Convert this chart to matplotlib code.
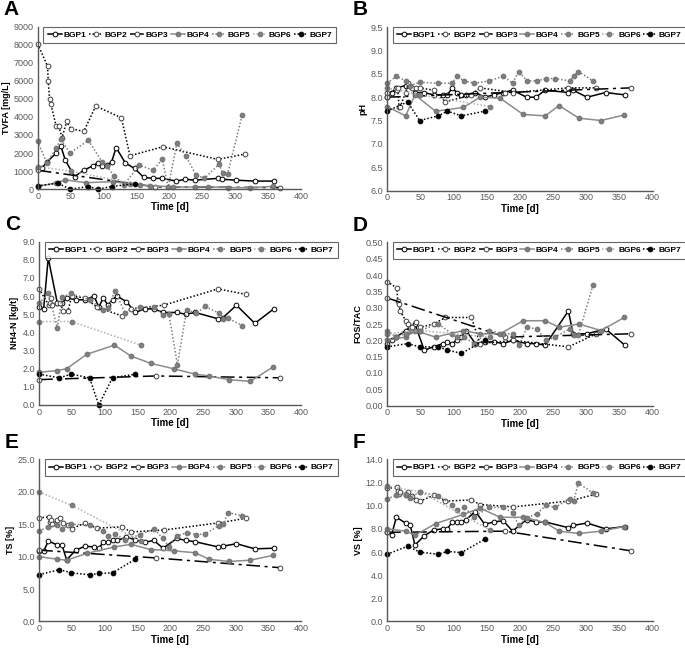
import matplotlib
matplotlib.use('Agg')
import matplotlib.pyplot as plt
from matplotlib.ticker import FormatStrFormatter

plt.rcParams['font.family'] = ['Liberation Sans', 'DejaVu Sans']

# sampling days of each plant
days_bgp1 = [0, 7, 14, 28, 35, 42, 56, 70, 84, 91, 98, 105, 112, 119, 133, 147, 161, 175, 189, 210, 224, 238, 273, 280, 301, 329, 358]
days_bgp2 = [0, 15, 16, 18, 20, 28, 32, 37, 44, 50, 70, 88, 127, 140, 190, 273, 315]
days_bgp3 = [0, 178, 367]
days_bgp4 = [0, 28, 42, 73, 115, 140, 170, 205, 238, 259, 289, 322, 357]
days_bgp5 = [0, 14, 28, 35, 49, 77, 98, 105, 116, 131, 154, 175, 189, 198, 211, 225, 240, 253, 275, 281, 288, 310]
days_bgp6 = [0, 50, 155]
days_bgp7 = [0, 31, 49, 77, 91, 112, 147]

# A - TVFA [mg/L]
tvfa_bgp1 = [1150, 1200, 1500, 2000, 2400, 1600, 700, 1050, 1300, 1450, 1300, 1350, 1500, 2300, 1450, 1150, 650, 600, 600, 450, 550, 500, 600, 550, 500, 450, 450]
tvfa_bgp2 = [8050, 6800, 6000, 5000, 4700, 3500, 3500, 2850, 3750, 3350, 3200, 4600, 3950, 1850, 2350, 1650, 1950]
tvfa_bgp3 = [1050, 130, 90]
tvfa_bgp4 = [150, 350, 520, 360, 420, 280, 200, 130, 120, 130, 90, 80, 160]
tvfa_bgp5 = [2660, 1430, 2290, 2780, 2000, 2700, 1500, 1280, 730, 250, 1330, 1060, 1650, 120, 2530, 1830, 780, 600, 1380, 880, 830, 4090]
tvfa_bgp6 = [1250, 1000, 250]
tvfa_bgp7 = [190, 330, 0, 150, 0, 150, 300]

# B - pH
ph_bgp1 = [8.0, 8.1, 8.2, 8.25, 8.25, 8.1, 8.1, 8.05, 8.05, 8.05, 8.2, 8.1, 8.05, 8.05, 8.1, 8.0, 8.05, 8.1, 8.15, 8.0, 8.0, 8.15, 8.1, 8.15, 8.0, 8.1, 8.05]
ph_bgp2 = [8.1, 8.15, 8.2, 7.8, 7.8, 8.1, 8.3, 8.2, 8.2, 8.2, 8.15, 7.9, 8.05, 8.2, 8.1, 8.2, 8.2]
ph_bgp3 = [8.0, 8.1, 8.2]
ph_bgp4 = [7.8, 7.6, 8.05, 7.7, 7.78, 8.0, 7.98, 7.63, 7.6, 7.82, 7.55, 7.5, 7.62]
ph_bgp5 = [8.3, 8.45, 8.35, 8.25, 8.32, 8.3, 8.3, 8.45, 8.35, 8.3, 8.35, 8.45, 8.3, 8.55, 8.35, 8.35, 8.4, 8.4, 8.35, 8.45, 8.55, 8.35]
ph_bgp6 = [8.2, 8.05, 7.8]
ph_bgp7 = [7.7, 7.9, 7.5, 7.6, 7.7, 7.6, 7.7]

# C - NH4-N [kg/t]
nh4_bgp1 = [5.4, 5.3, 8.1, 5.6, 5.6, 5.9, 5.8, 5.8, 6.0, 5.4, 5.9, 5.5, 5.8, 6.0, 5.7, 5.1, 5.3, 5.3, 5.1, 5.1, 5.0, 5.1, 4.75, 4.8, 5.5, 4.5, 5.3]
nh4_bgp2 = [6.4, 5.5, 5.6, 5.9, 5.5, 5.6, 5.6, 5.2, 5.2, 6.0, 5.9, 5.4, 4.9, 5.3, 5.5, 6.4, 6.1]
nh4_bgp3 = [1.4, 1.6, 1.5]
nh4_bgp4 = [1.8, 1.9, 2.0, 2.8, 3.3, 2.7, 2.3, 2.0, 1.7, 1.6, 1.4, 1.3, 2.1]
nh4_bgp5 = [5.6, 6.15, 4.25, 5.95, 6.15, 5.8, 5.25, 5.35, 6.3, 5.07, 5.4, 5.4, 4.97, 5.0, 2.22, 5.24, 5.05, 5.43, 5.05, 4.75, 4.78, 4.38]
nh4_bgp6 = [4.6, 4.6, 3.3]
nh4_bgp7 = [1.7, 1.5, 1.7, 1.5, 0.0, 1.5, 1.7]

# D - FOS/TAC
fos_bgp1 = [0.19, 0.2, 0.21, 0.23, 0.24, 0.25, 0.17, 0.18, 0.19, 0.195, 0.19, 0.2, 0.21, 0.23, 0.19, 0.195, 0.195, 0.19, 0.2, 0.19, 0.19, 0.185, 0.29, 0.22, 0.22, 0.235, 0.185]
fos_bgp2 = [0.38, 0.36, 0.32, 0.31, 0.29, 0.26, 0.25, 0.24, 0.255, 0.24, 0.25, 0.27, 0.27, 0.19, 0.2, 0.18, 0.22]
fos_bgp3 = [0.33, 0.21, 0.22]
fos_bgp4 = [0.2, 0.21, 0.23, 0.21, 0.23, 0.22, 0.22, 0.26, 0.26, 0.24, 0.25, 0.23, 0.27]
fos_bgp5 = [0.23, 0.21, 0.22, 0.23, 0.23, 0.25, 0.22, 0.21, 0.21, 0.19, 0.23, 0.22, 0.22, 0.185, 0.24, 0.235, 0.2, 0.21, 0.235, 0.215, 0.215, 0.37]
fos_bgp6 = [0.22, 0.23, 0.21]
fos_bgp7 = [0.18, 0.19, 0.18, 0.18, 0.17, 0.16, 0.2]

# E - TS [%]
ts_bgp1 = [10.9, 10.8, 12.4, 11.8, 11.8, 9.5, 11.0, 11.6, 11.5, 11.3, 12.2, 12.2, 12.5, 12.5, 13.0, 12.6, 12.2, 12.5, 11.3, 12.8, 12.5, 12.3, 11.5, 11.6, 12.0, 11.2, 11.3]
ts_bgp2 = [16.0, 16.1, 15.3, 15.6, 15.0, 15.6, 15.9, 15.2, 14.9, 14.3, 15.2, 14.4, 14.6, 13.8, 14.1, 15.2, 15.9]
ts_bgp3 = [11.0, 9.8, 8.3]
ts_bgp4 = [10.0, 9.6, 9.45, 10.5, 11.5, 11.9, 11.1, 10.9, 10.6, 9.6, 9.25, 9.45, 10.2]
ts_bgp5 = [14.0, 14.5, 14.9, 14.3, 15.0, 14.9, 13.9, 13.2, 13.5, 12.6, 13.4, 14.3, 12.8, 11.5, 13.2, 13.7, 13.4, 13.5, 14.8, 15.0, 16.8, 16.3]
ts_bgp6 = [20.0, 17.9, 12.4]
ts_bgp7 = [7.2, 8.0, 7.5, 7.2, 7.4, 7.5, 9.6]

# F - VS [%]
vs_bgp1 = [7.7, 7.5, 9.0, 8.5, 8.3, 6.6, 7.4, 7.9, 8.0, 8.0, 8.6, 8.6, 8.6, 8.8, 9.5, 8.4, 8.6, 8.7, 7.8, 8.8, 8.6, 8.6, 8.1, 8.3, 8.5, 8.0, 8.2]
vs_bgp2 = [11.5, 11.6, 11.3, 11.0, 11.2, 10.9, 11.2, 10.8, 10.5, 10.4, 10.9, 10.4, 10.5, 10.1, 9.9, 10.4, 11.0]
vs_bgp3 = [7.7, 7.8, 6.1]
vs_bgp4 = [8.0, 7.8, 7.45, 8.45, 9.25, 9.8, 9.0, 9.0, 8.55, 7.8, 7.6, 7.8, 8.2]
vs_bgp5 = [10.6, 10.9, 11.05, 10.7, 11.2, 10.85, 10.1, 9.65, 9.85, 9.05, 9.85, 9.85, 9.4, 8.3, 8.95, 9.3, 10.05, 9.85, 10.6, 10.45, 11.95, 11.1]
vs_bgp6 = [11.7, 11.2, 7.9]
vs_bgp7 = [5.8, 6.5, 6.0, 5.8, 6.05, 5.95, 7.1]

names = ['BGP1', 'BGP2', 'BGP3', 'BGP4', 'BGP5', 'BGP6', 'BGP7']
all_days = [days_bgp1, days_bgp2, days_bgp3, days_bgp4, days_bgp5, days_bgp6, days_bgp7]

# line style, line colour, marker face, marker edge
styles = [
    ('-', 'black', 'white', 'black'),
    ((0, (1, 1.3)), 'black', 'white', '#404040'),
    ((0, (9, 3, 2, 3)), 'black', 'white', '#404040'),
    ('-', '#8c8c8c', '#7f7f7f', '#6f6f6f'),
    ((0, (1, 1.3)), '#7f7f7f', '#7f7f7f', '#6f6f6f'),
    ((0, (1, 1.3)), '#b0b0b0', '#808080', '#707070'),
    ((0, (1, 1.3)), 'black', 'black', 'black'),
]

panels = [
    ('A', 'TVFA [mg/L]', [tvfa_bgp1, tvfa_bgp2, tvfa_bgp3, tvfa_bgp4, tvfa_bgp5, tvfa_bgp6, tvfa_bgp7], 0, 9000, 1000, '%d'),
    ('B', 'pH', [ph_bgp1, ph_bgp2, ph_bgp3, ph_bgp4, ph_bgp5, ph_bgp6, ph_bgp7], 6.0, 9.5, 0.5, '%.1f'),
    ('C', 'NH4-N [kg/t]', [nh4_bgp1, nh4_bgp2, nh4_bgp3, nh4_bgp4, nh4_bgp5, nh4_bgp6, nh4_bgp7], 0, 9.0, 1.0, '%.1f'),
    ('D', 'FOS/TAC', [fos_bgp1, fos_bgp2, fos_bgp3, fos_bgp4, fos_bgp5, fos_bgp6, fos_bgp7], 0, 0.5, 0.05, '%.2f'),
    ('E', 'TS [%]', [ts_bgp1, ts_bgp2, ts_bgp3, ts_bgp4, ts_bgp5, ts_bgp6, ts_bgp7], 0, 25.0, 5.0, '%.1f'),
    ('F', 'VS [%]', [vs_bgp1, vs_bgp2, vs_bgp3, vs_bgp4, vs_bgp5, vs_bgp6, vs_bgp7], 0, 14.0, 2.0, '%.1f'),
]

# axes boxes [left, bottom, width, height] in figure fraction
boxes = [
    [0.055, 0.708, 0.385, 0.251],
    [0.565, 0.706, 0.388, 0.252],
    [0.057, 0.375, 0.383, 0.252],
    [0.565, 0.374, 0.388, 0.252],
    [0.057, 0.041, 0.383, 0.250],
    [0.565, 0.041, 0.388, 0.250],
]

fig = plt.figure(figsize=(6.85, 6.48), dpi=100)

for (letter, ylabel, series, ymin, ymax, ystep, fmt), box in zip(panels, boxes):
    ax = fig.add_axes(box)
    for name, days, vals, (ls, lc, mfc, mec) in zip(names, all_days, series, styles):
        ax.plot(days, vals, linestyle=ls, color=lc, lw=1.1, marker='o', ms=3.4,
                mfc=mfc, mec=mec, mew=0.7, label=name, clip_on=False)
    ax.set_xlim(0, 400)
    ax.set_ylim(ymin, ymax)
    ax.set_xticks(range(0, 401, 50))
    n = int(round((ymax - ymin) / ystep))
    ax.set_yticks([ymin + i * ystep for i in range(n + 1)])
    ax.yaxis.set_major_formatter(FormatStrFormatter(fmt))
    ax.tick_params(length=0, labelsize=6.5, labelcolor='#595959')
    ax.tick_params(axis='x', pad=2)
    ax.tick_params(axis='y', pad=3)
    for s in ['top', 'right']:
        ax.spines[s].set_visible(False)
    for s in ['left', 'bottom']:
        ax.spines[s].set_color('#595959')
        ax.spines[s].set_linewidth(1.0)
    ax.set_xlabel('Time [d]', fontsize=7, fontweight='bold', labelpad=1)
    ax.set_ylabel(ylabel, fontsize=6.5, fontweight='bold', labelpad=2)
    leg = ax.legend(loc='upper left', bbox_to_anchor=(0.022, 1.0), ncol=7,
                    prop={'weight': 'bold', 'size': 6}, frameon=True, fancybox=False,
                    handlelength=1.7, handletextpad=0.2, columnspacing=0.3,
                    borderpad=0.5, borderaxespad=0, numpoints=1)
    leg.get_frame().set_edgecolor('#404040')
    leg.get_frame().set_linewidth(0.8)
    pos = ax.get_position()
    fig.text(pos.x0 - 0.05, pos.y1 + 0.012, letter, fontsize=15, fontweight='bold',
             va='bottom', ha='left')

fig.savefig('out.png', dpi=100)
